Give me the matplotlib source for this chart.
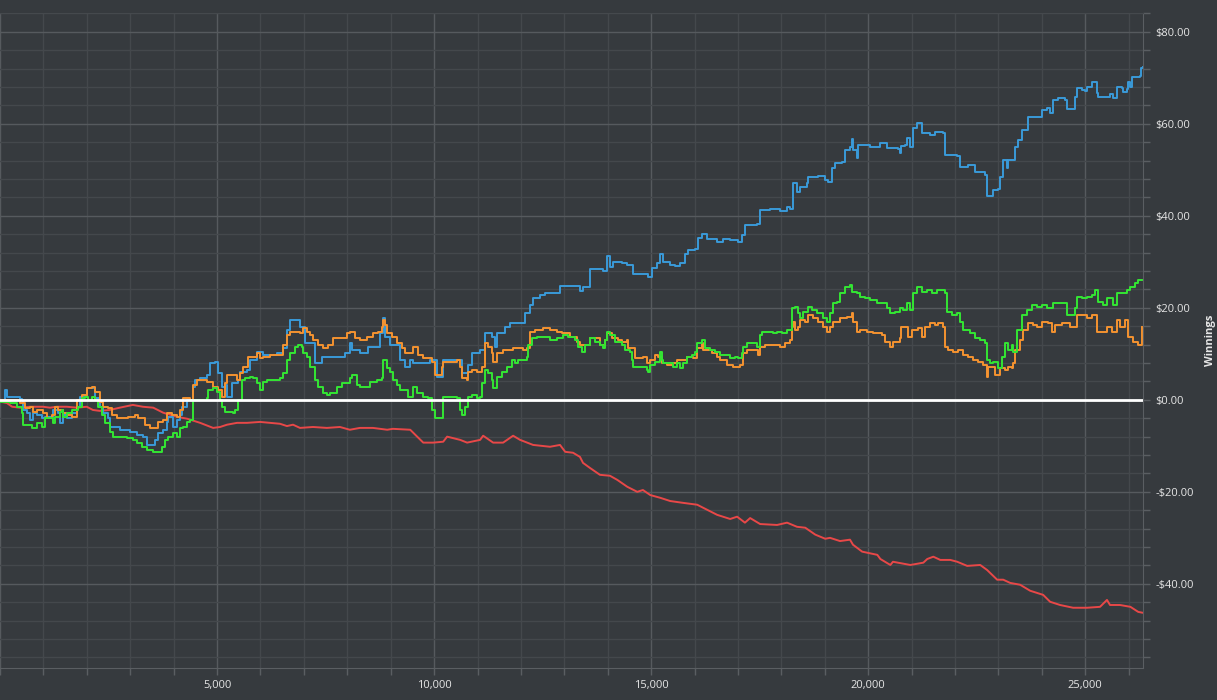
import matplotlib
matplotlib.use("Agg")
import matplotlib.pyplot as plt
from matplotlib.ticker import MultipleLocator, FuncFormatter

# cumulative winnings per hand
blue_hands = [0, 115, 160, 460, 510, 530, 620, 690, 760, 850, 970, 1040, 1150, 1220, 1340, 1380,
              1450, 1540, 1660, 1770, 1840, 2000, 2120, 2190, 2300, 2370, 2490, 2530, 2700, 2760,
              3000, 3160, 3290, 3390, 3530, 3570, 3640, 3760, 3850, 3870, 3990, 4080, 4150, 4190,
              4310, 4450, 4490, 4610, 4770, 4840, 4950, 5020, 5110, 5180, 5230, 5300, 5350, 5480,
              5530, 5690, 5760, 5920, 6060, 6220, 6380, 6520, 6610, 6680, 6840, 6910, 7030, 7260,
              7420, 7600, 7950, 8060, 8110, 8290, 8480, 8760, 8820, 8870, 8990, 9220, 9330, 9450,
              9520, 9910, 10070, 10210, 10480, 10640, 10780, 10870, 11060, 11170, 11340, 11400,
              11450, 11630, 11750, 11980, 12100, 12210, 12280, 12440, 12560, 12900, 13180, 13360,
              13430, 13590, 13890, 13990, 14050, 14120, 14330, 14450, 14580, 14810, 14930, 15020,
              15140, 15210, 15280, 15440, 15550, 15670, 15780, 15850, 16010, 16080, 16170, 16290,
              16520, 16660, 16820, 17000, 17100, 17160, 17440, 17510, 17740, 17970, 18130, 18200,
              18270, 18360, 18430, 18590, 18620, 18850, 19010, 19080, 19170, 19240, 19400, 19470,
              19580, 19630, 19650, 19750, 19770, 20040, 20280, 20440, 20690, 20740, 20750, 20850,
              20900, 20970, 21040, 21130, 21240, 21430, 21540, 21730, 21770, 21930, 22050, 22120,
              22300, 22460, 22690, 22740, 22860, 22880, 22990, 23040, 23110, 23200, 23220, 23340,
              23390, 23450, 23550, 23660, 23690, 23890, 24010, 24120, 24190, 24260, 24380, 24540,
              24580, 24720, 24770, 24810, 24930, 25000, 25040, 25160, 25230, 25270, 25300, 25530,
              25570, 25640, 25710, 25740, 25850, 25860, 25970, 25990, 26040, 26080, 26270, 26290,
              26330]
blue_won = [0, 2.2, 0.7, 0.2, 0, -2.2, -2.8, -4.3, -2.8, -3.3, -3.9, -3.7, -3.7, -2.2, -2.8, -5.0,
            -3.3, -3.9, -2.8, -1.5, 0.7, 2.6, 2.6, 0.4, -1.5, -2.8, -3.9, -5.9, -5.9, -6.5,
            -7.0, -7.6, -8.0, -9.8, -9.8, -8.7, -7.2, -6.5, -4.8, -3.7, -5.9, -4.3, -3.3, -1.5,
            0, 2.8, 4.3, 4.8, 5.4, 8.0, 8.3, 5.9, 2.8, 3.3, 0.7, 0.7, 3.7, 4.3,
            6.1, 6.5, 8.7, 10.4, 9.8, 9.8, 10.2, 11.3, 15.2, 17.4, 17.4, 15.9, 12.4, 8.0,
            9.3, 9.3, 10.2, 12.4, 10.9, 10.2, 11.5, 14.6, 17.8, 13.7, 12.0, 8.7, 7.2, 8.7,
            8.0, 8.7, 5.0, 8.7, 8.7, 5.9, 7.6, 10.2, 10.9, 14.6, 13.7, 11.5,
            14.6, 15.9, 16.7, 16.7, 18.9, 20.7, 22.2, 22.8, 23.3, 24.8, 24.8, 23.7,
            24.6, 28.5, 28.0, 31.3, 28.9, 30.0, 29.8, 29.3, 27.4, 27.4, 26.7, 28.7,
            29.8, 31.7, 30.0, 29.3, 29.1, 29.8, 31.7, 32.6, 32.8, 35.2, 36.1, 35.0,
            34.3, 35.0, 34.8, 34.3, 35.9, 38.0, 38.3, 41.3, 41.5, 41.1, 42.0, 41.5,
            47.2, 45.2, 46.3, 47.2, 48.5, 48.7, 47.8, 47.4, 50.4, 51.5, 51.7, 54.3,
            55.0, 56.7, 54.3, 52.6, 55.4, 55.0, 55.9, 54.8, 54.6, 53.7, 55.2, 55.4,
            57.0, 55.0, 59.1, 60.2, 58.0, 57.6, 58.3, 58.0, 53.3, 53.3, 53.0, 50.7,
            51.1, 49.6, 48.9, 44.3, 44.3, 45.7, 45.9, 48.5, 52.2, 50.4, 52.2, 52.2,
            55.0, 56.5, 58.7, 58.7, 61.5, 61.5, 63.0, 63.5, 62.4, 65.2, 65.7, 65.2,
            63.3, 63.3, 65.9, 67.8, 67.4, 67.2, 68.0, 69.1, 69.1, 66.7, 65.9, 65.9,
            66.5, 65.7, 65.7, 68.0, 67.8, 67.0, 67.6, 69.1, 68.0, 70.2, 70.4, 72.2,
            72.4]

orange_hands = [0, 230, 460, 580, 690, 760, 850, 990, 1080, 1200, 1270, 1340, 1450, 1540, 1660,
                1770, 1890, 2000, 2120, 2190, 2300, 2370, 2490, 2580, 2700, 2810, 2950, 3110,
                3180, 3340, 3460, 3570, 3640, 3760, 3850, 3960, 4080, 4150, 4220, 4380, 4450,
                4540, 4680, 4770, 4910, 5020, 5110, 5180, 5230, 5350, 5460, 5530, 5600, 5710,
                5830, 5920, 5990, 6060, 6220, 6380, 6520, 6610, 6680, 6910, 6980, 7070, 7140,
                7210, 7330, 7440, 7560, 7670, 7830, 7990, 8060, 8180, 8290, 8460, 8590, 8710,
                8800, 8820, 8870, 8920, 9030, 9150, 9260, 9330, 9490, 9520, 9630, 9750, 9860,
                9950, 10020, 10140, 10180, 10210, 10370, 10530, 10600, 10640, 10760, 10780,
                10870, 10990, 11110, 11170, 11240, 11340, 11360, 11450, 11590, 11820, 12050,
                12140, 12210, 12330, 12510, 12670, 12830, 12950, 13130, 13290, 13360, 13480,
                13590, 13820, 13940, 13990, 14100, 14240, 14330, 14450, 14470, 14560, 14630,
                14750, 14810, 14910, 14980, 15090, 15160, 15250, 15370, 15510, 15600, 15710,
                15830, 15970, 16060, 16170, 16200, 16290, 16400, 16520, 16590, 16750, 16890,
                17050, 17120, 17210, 17350, 17460, 17510, 17630, 17900, 17970, 18090, 18200,
                18250, 18270, 18320, 18390, 18430, 18550, 18620, 18730, 18850, 18960, 19050,
                19120, 19190, 19350, 19510, 19630, 19650, 19750, 19810, 19980, 20110, 20320,
                20390, 20510, 20570, 20740, 20750, 20900, 20920, 21010, 21150, 21240, 21310,
                21430, 21540, 21610, 21730, 21770, 21840, 21960, 22070, 22190, 22300, 22420,
                22530, 22650, 22740, 22760, 22920, 23040, 23160, 23220, 23320, 23340, 23390,
                23500, 23570, 23690, 23800, 23890, 24010, 24150, 24240, 24310, 24470, 24650,
                24770, 24810, 24950, 25040, 25160, 25270, 25390, 25510, 25620, 25740, 25800,
                25920, 25990, 26100, 26220, 26310]
orange_won = [0, 0, -0.7, -1.7, -1.5, -2.6, -2.2, -2.8, -3.9, -3.3, -1.5, -2.2, -2.8, -3.3, -3.7,
              0, 1.1, 2.6, 2.8, 1.7, -0.4, -1.5, -1.7, -3.3, -3.9, -3.9, -3.7, -3.3,
              -3.9, -5.4, -6.1, -6.1, -4.8, -4.3, -2.8, -3.3, -3.7, -2.2, 0.4, 0, 3.3,
              4.3, 4.3, 3.9, 2.8, 2.2, 0.7, 3.7, 5.4, 5.4, 4.3, 5.9, 7.2, 9.3,
              9.3, 10.2, 9.1, 9.3, 9.8, 9.8, 12.0, 14.1, 14.8, 14.6, 15.7, 14.8, 14.1,
              13.0, 12.0, 11.3, 12.0, 13.5, 13.5, 14.6, 14.8, 13.5, 13.0, 13.7, 14.6, 14.8,
              15.9, 17.4, 16.3, 14.6, 13.7, 12.4, 11.3, 10.2, 10.2, 11.5, 9.8, 9.1, 9.1,
              8.3, 5.4, 5.4, 7.2, 8.3, 8.3, 8.7, 7.2, 4.8, 4.3, 6.1,
              6.5, 6.1, 7.2, 12.4, 11.5, 10.2, 8.3, 10.2, 10.9, 11.3, 10.9,
              11.3, 14.8, 15.2, 15.7, 15.2, 14.8, 14.6, 13.7, 12.6, 12.0, 12.0,
              13.5, 12.0, 13.0, 14.6, 13.5, 13.0, 12.6, 13.0, 11.3, 11.3, 9.1,
              9.1, 9.3, 8.0, 8.7, 9.8, 9.3, 8.0, 7.6, 8.0, 8.7, 8.7,
              9.3, 9.1, 11.3, 12.4, 10.9, 10.9, 10.2, 9.3, 8.7, 7.6, 7.2,
              7.6, 10.2, 10.9, 10.9, 9.8, 11.5, 12.0, 12.0, 11.5, 12.4, 13.0,
              15.9, 17.0, 15.2, 15.9, 17.4, 17.0, 18.5, 17.8, 17.0, 15.9, 14.8,
              15.9, 17.0, 17.8, 18.0, 18.9, 17.0, 14.8, 15.2, 14.8, 14.6, 14.1,
              12.6, 11.5, 12.6, 13.5, 15.9, 15.9, 13.7, 15.2, 15.7, 13.7, 15.9,
              16.7, 16.3, 16.7, 15.9, 11.5, 10.9, 10.4, 10.9, 9.8, 9.3, 8.7,
              8.3, 7.6, 5.0, 7.2, 5.4, 7.0, 6.5, 7.2, 7.0, 8.0, 10.9,
              13.0, 15.2, 16.7, 16.3, 15.9, 17.0, 16.7, 14.8, 16.3, 16.7, 15.9,
              15.9, 18.5, 18.5, 17.8, 18.5, 14.8, 14.8, 15.9, 14.8, 17.4, 15.9,
              17.4, 13.7, 12.6, 12.0, 15.9]

green_hands = [0, 230, 390, 510, 530, 620, 740, 850, 970, 1040, 1150, 1220, 1270, 1380, 1430,
               1450, 1540, 1660, 1800, 1890, 1960, 2030, 2120, 2190, 2260, 2350, 2420, 2530,
               2600, 2760, 2930, 3060, 3160, 3270, 3390, 3530, 3690, 3730, 3800, 3870, 3990,
               4080, 4150, 4220, 4310, 4380, 4450, 4610, 4770, 4790, 4910, 5000, 5070, 5110,
               5180, 5370, 5410, 5480, 5580, 5640, 5760, 5830, 5920, 5990, 6060, 6150, 6340,
               6450, 6520, 6610, 6680, 6800, 6870, 6960, 6980, 7070, 7140, 7260, 7330, 7440,
               7530, 7600, 7760, 7880, 7990, 8060, 8110, 8230, 8290, 8410, 8520, 8690, 8800,
               8820, 8920, 8990, 9050, 9150, 9220, 9330, 9400, 9520, 9610, 9750, 9860, 9950,
               10020, 10140, 10210, 10320, 10530, 10600, 10640, 10710, 10780, 10870, 10990,
               11060, 11110, 11170, 11240, 11340, 11360, 11450, 11570, 11680, 11800, 11870,
               11930, 12140, 12170, 12260, 12370, 12670, 12830, 12970, 13090, 13250, 13320,
               13410, 13480, 13590, 13710, 13820, 13890, 13940, 13990, 14050, 14170, 14330,
               14400, 14520, 14560, 14580, 14860, 14910, 14930, 14980, 15090, 15210, 15250,
               15280, 15440, 15510, 15600, 15670, 15740, 15830, 15940, 16010, 16060, 16170,
               16240, 16360, 16470, 16590, 16820, 16930, 17000, 17100, 17120, 17210, 17330,
               17440, 17510, 17560, 17810, 17900, 18020, 18130, 18200, 18250, 18320, 18390,
               18430, 18500, 18620, 18710, 18820, 18960, 19050, 19120, 19190, 19280, 19350,
               19470, 19580, 19630, 19750, 19810, 19930, 20040, 20210, 20320, 20440, 20510,
               20620, 20740, 20800, 20900, 20970, 21040, 21130, 21240, 21360, 21470, 21590,
               21770, 21820, 21930, 22050, 22120, 22190, 22350, 22460, 22580, 22690, 22740,
               22810, 22880, 22990, 23090, 23160, 23220, 23320, 23340, 23430, 23550, 23660,
               23780, 23890, 24010, 24120, 24260, 24380, 24580, 24590, 24720, 24770, 24810,
               24930, 25040, 25160, 25230, 25300, 25410, 25510, 25570, 25640, 25740, 25850,
               25970, 26040, 26150, 26220, 26310]
green_won = [-0.4, -0.7, -1.5, -2.8, -5.4, -5.4, -6.1, -5.0, -5.9, -3.9, -3.9, -5.0, -3.7, -2.6, -2.2,
             -3.7, -2.8, -2.2, -1.5, 0.4, 0.7, 0, 0.7, 0, -1.5, -3.3, -5.0, -7.0,
             -8.0, -8.0, -8.3, -8.7, -9.3, -10.2, -10.9, -11.3, -11.3, -10.2, -8.7, -8.0, -7.2,
             -8.0, -6.1, -5.9, -4.8, -4.3, 0, 0, 0.4, 2.2, 2.6, 1.7, 0, -1.5,
             -2.6, -2.8, -2.2, 0, 4.3, 4.8, 5.0, 4.8, 3.7, 2.2, 3.9, 4.3, 4.3,
             4.8, 5.9, 8.7, 10.2, 11.5, 12.0, 11.5, 10.2, 9.3, 7.2, 4.3, 2.8, 1.5,
             1.1, 1.5, 2.8, 3.7, 3.7, 4.8, 5.4, 3.3, 2.8, 2.8, 3.9, 4.3, 4.8,
             8.7, 7.0, 6.1, 4.3, 3.3, 2.2, 2.2, 0.7, 2.8, 1.5, 0.7, 0.4, -2.2,
             -3.9, -3.9, 0.7, 0.7, 0.4, -2.2, -3.3, -1.5, 0.7, 1.1, 0.4,
             0.7, 3.7, 6.5, 5.9, 4.3, 2.6, 5.0, 6.1, 7.2, 8.7, 8.0,
             8.7, 9.3, 12.0, 13.5, 13.7, 13.0, 13.5, 14.1, 13.7, 13.0, 11.5,
             10.4, 12.0, 13.5, 12.6, 12.0, 11.3, 13.0, 14.8, 14.1, 12.6, 12.0,
             10.9, 10.4, 8.7, 7.2, 7.2, 6.5, 6.1, 7.6, 8.3, 10.4, 8.7,
             8.0, 8.0, 7.2, 8.0, 7.0, 8.0, 9.3, 9.8, 10.4, 12.4, 13.0,
             11.3, 10.9, 10.4, 9.8, 9.1, 9.3, 9.1, 10.2, 11.5, 12.4, 12.4,
             11.5, 14.1, 14.8, 14.6, 14.8, 14.6, 15.2, 15.2, 20.0, 20.2, 18.9,
             17.8, 19.1, 20.2, 19.6, 18.9, 17.8, 17.0, 18.9, 21.1, 21.3, 23.3,
             24.6, 25.0, 23.5, 23.3, 22.4, 22.2, 21.7, 21.1, 21.1, 20.0, 18.9,
             19.1, 20.0, 19.6, 21.1, 19.6, 23.3, 24.6, 23.5, 23.9, 23.3, 23.9,
             23.3, 19.1, 18.5, 18.9, 17.0, 15.2, 14.6, 13.5, 13.0, 12.4, 8.7,
             8.0, 8.3, 7.0, 9.3, 12.4, 10.9, 12.0, 10.4, 15.2, 18.5, 19.6,
             20.7, 20.2, 20.7, 20.0, 21.1, 21.1, 20.7, 18.5, 18.5, 20.0, 22.4,
             22.2, 22.4, 22.8, 23.9, 21.3, 20.7, 22.2, 22.2, 20.7, 23.3, 23.3,
             23.9, 24.6, 25.4, 26.1, 26.1]

red_hands = [0, 160, 280, 460, 690, 990, 1150, 1310, 1540, 1770, 2000, 2140, 2300, 2530, 2760,
             3060, 3290, 3530, 3760, 4080, 4310, 4610, 4910, 5070, 5230, 5460, 5690, 5990,
             6220, 6450, 6610, 6750, 6910, 7210, 7530, 7830, 8060, 8290, 8590, 8920, 9050,
             9450, 9610, 9750, 9980, 10210, 10300, 10600, 10760, 11060, 11130, 11360, 11590,
             11820, 11980, 12280, 12670, 12900, 13020, 13200, 13360, 13430, 13590, 13820,
             14050, 14220, 14450, 14680, 14810, 14980, 15210, 15440, 15740, 16060, 16290,
             16520, 16820, 16980, 17160, 17280, 17510, 17900, 18130, 18360, 18550, 18780,
             19010, 19120, 19350, 19580, 19650, 19860, 20210, 20280, 20510, 20570, 20970,
             21270, 21360, 21500, 21660, 21890, 22050, 22280, 22580, 22740, 22970, 23110,
             23270, 23500, 23730, 24030, 24190, 24420, 24720, 25040, 25340, 25500, 25570,
             25800, 26040, 26220, 26330]
red_won = [-0.4, -0.7, -1.5, -1.7, -1.5, -1.5, -1.7, -1.5, -1.5, -1.7, -1.5, -2.2, -2.4, -2.2, -1.7,
           -1.1, -1.5, -1.7, -2.8, -3.7, -4.1, -5.0, -6.1, -5.9, -5.4, -5.0, -5.0, -4.8,
           -5.0, -5.2, -5.7, -5.4, -6.1, -5.9, -6.1, -5.9, -6.5, -6.1, -6.1, -6.5, -6.3,
           -6.5, -8.0, -9.3, -9.3, -9.1, -8.0, -8.7, -9.3, -8.7, -7.8, -9.3, -9.3,
           -7.8, -8.7, -9.8, -10.2, -9.8, -11.3, -11.5, -12.4, -13.7, -14.8, -16.3,
           -16.5, -17.4, -18.9, -20.0, -19.6, -20.7, -21.3, -22.0, -22.4, -22.8, -23.9,
           -25.0, -25.9, -25.4, -26.7, -25.7, -27.0, -27.2, -26.7, -27.6, -27.8, -29.3,
           -30.2, -30.0, -30.7, -30.4, -31.5, -33.0, -33.7, -34.6, -35.9, -35.2, -35.9,
           -35.4, -34.6, -34.1, -34.8, -34.8, -35.2, -36.1, -35.9, -37.0, -39.1, -39.1,
           -39.8, -40.2, -41.5, -42.4, -43.9, -44.6, -45.2, -45.2, -45.0, -43.5, -44.6,
           -44.6, -45.0, -46.1, -46.3]

bg = "#363a3e"
text_col = "#e6e6e6"

fig = plt.figure(figsize=(12.17, 7), dpi=100, facecolor=bg)
ax = fig.add_axes([0, 0.0457, 0.9392, 0.9357], facecolor=bg)

# red drifts down smoothly, the others move in visible steps
ax.plot(red_hands, red_won, color="#e84848", lw=1.4)
ax.plot(blue_hands, blue_won, color="#3a9ad9", lw=1.4, drawstyle="steps-post")
ax.plot(orange_hands, orange_won, color="#f59330", lw=1.4, drawstyle="steps-post")
ax.plot(green_hands, green_won, color="#33e633", lw=1.4, drawstyle="steps-post")
ax.axhline(0, color="white", lw=2.0, zorder=5)

ax.set_xlim(0, 26330)
ax.set_ylim(-58.3, 84.1)

ax.xaxis.set_major_locator(MultipleLocator(5000))
ax.xaxis.set_minor_locator(MultipleLocator(1000))
ax.xaxis.set_major_formatter(FuncFormatter(lambda v, p: "" if v == 0 else f"{int(v):,}"))
ax.yaxis.set_major_locator(MultipleLocator(20))
ax.yaxis.set_minor_locator(MultipleLocator(4))
ax.yaxis.set_major_formatter(FuncFormatter(lambda v, p: f"-${abs(v):,.2f}" if v < 0 else f"${v:,.2f}"))

ax.yaxis.tick_right()
ax.yaxis.set_label_position("right")
ax.set_ylabel("Winnings", color=text_col, fontsize=8, fontweight="bold", family="Open Sans", labelpad=8)

ax.grid(which="minor", color="#44484c", lw=1.0)
ax.grid(which="major", color="#565a5e", lw=1.0)
ax.set_axisbelow(True)

for lab in ax.get_xticklabels() + ax.get_yticklabels():
    lab.set_family("Open Sans")
ax.tick_params(which="both", colors="#5a5e62", labelcolor=text_col, labelsize=8, length=5, width=1)
ax.tick_params(axis="y", which="both", pad=4)

ax.spines["left"].set_visible(False)
ax.spines["top"].set_color("#45494d")
for side in ["right", "bottom"]:
    ax.spines[side].set_color("#5a5e62")

fig.savefig("out.png", dpi=100, facecolor=bg)
